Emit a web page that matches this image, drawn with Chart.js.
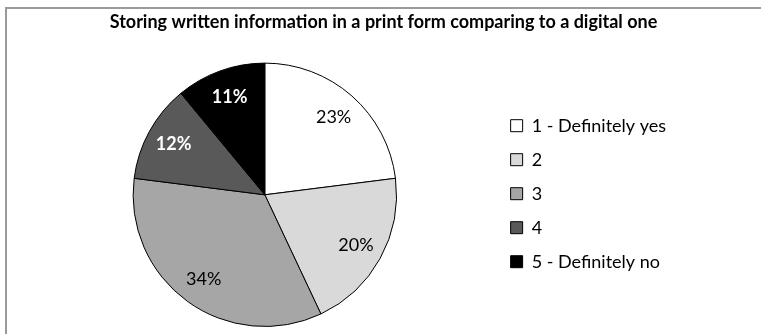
<!DOCTYPE html>
<html>
<head>
<meta charset="utf-8">
<script src="https://cdn.jsdelivr.net/npm/chart.js@4/dist/chart.umd.min.js"></script>
<style>
  html, body { margin: 0; padding: 0; background: #fff; }
  #wrap { position: relative; width: 761px; height: 334px; }
</style>
</head>
<body>
<div id="wrap"><canvas id="pie"></canvas></div>
<script>
// Answers on storing written information in print vs. digital form
var answers = ['1 - Definitely yes', '2', '3', '4', '5 - Definitely no'];
var shares = [23, 20, 34, 12, 11];

var sliceColors = ['#ffffff', '#d9d9d9', '#a6a6a6', '#595959', '#000000'];
var labelColors = ['#000000', '#000000', '#000000', '#ffffff', '#ffffff'];
var labelBold = [false, false, false, true, true];
var FONT = 'Lato, "Open Sans", sans-serif';

// thin grey frame around the chart, like the spreadsheet chart border
var frame = {
  id: 'frame',
  beforeDraw: function (chart) {
    var ctx = chart.ctx;
    ctx.save();
    ctx.strokeStyle = '#9a9a9a';
    ctx.lineWidth = 2;
    ctx.beginPath();
    ctx.moveTo(6, chart.height);
    ctx.lineTo(6, 8);
    ctx.lineTo(chart.width, 8);
    ctx.stroke();
    ctx.restore();
  },
  // centre the title over the whole frame, not just the padded area
  afterLayout: function (chart) {
    if (chart.titleBlock) {
      chart.titleBlock.left = 6;
      chart.titleBlock.right = chart.width;
    }
  }
};

// percentage inside every slice
var sliceLabels = {
  id: 'sliceLabels',
  afterDatasetsDraw: function (chart) {
    var ctx = chart.ctx;
    var meta = chart.getDatasetMeta(0);
    ctx.save();
    ctx.textAlign = 'center';
    ctx.textBaseline = 'middle';
    meta.data.forEach(function (arc, i) {
      var p = arc.getProps(['x', 'y', 'startAngle', 'endAngle', 'outerRadius'], true);
      var mid = (p.startAngle + p.endAngle) / 2;
      var r = p.outerRadius * 0.79;
      ctx.fillStyle = labelColors[i];
      ctx.font = (labelBold[i] ? 'bold ' : '') + '18px ' + FONT;
      ctx.fillText(shares[i] + '%', p.x + Math.cos(mid) * r, p.y + Math.sin(mid) * r);
    });
    ctx.restore();
  }
};

new Chart(document.getElementById('pie'), {
  type: 'pie',
  data: {
    labels: answers,
    datasets: [{
      data: shares,
      backgroundColor: sliceColors,
      borderColor: '#000000',
      borderWidth: 1
    }]
  },
  options: {
    responsive: true,
    maintainAspectRatio: false,
    animation: false,
    layout: { padding: { top: 10, bottom: 7, left: 35, right: 85 } },
    plugins: {
      title: {
        display: true,
        text: 'Storing written information in a print form comparing to a digital one',
        color: '#000000',
        font: { family: FONT, size: 18, weight: 'bold' },
        padding: { top: 1, bottom: 30 }
      },
      legend: {
        position: 'right',
        // empty legend title only pushes the entries down level with the pie
        title: { display: true, text: '', font: { size: 12 }, padding: 18 },
        labels: {
          color: '#000000',
          font: { family: FONT, size: 18 },
          boxWidth: 12,
          boxHeight: 12,
          padding: 16
        }
      },
      tooltip: { enabled: false }
    }
  },
  plugins: [frame, sliceLabels]
});
</script>
</body>
</html>
